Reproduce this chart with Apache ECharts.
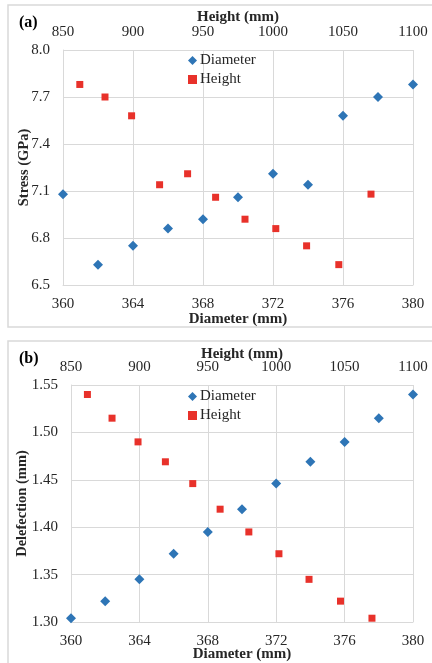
<!DOCTYPE html>
<html>
<head>
	<meta charset="utf-8">
	<title>Stress / Deflection</title>
	<script src="https://cdn.jsdelivr.net/npm/echarts@6/dist/echarts.min.js"></script>
	<style>
		html, body { margin: 0; padding: 0; background: #fff; }
		#chart { width: 432px; height: 663px; }
	</style>
</head>
<body>
	<div id="chart"></div>
	<script>
		// diameter (bottom axis) and height (top axis) values
		var diameter = [360, 362, 364, 366, 368, 370, 372, 374, 376, 378, 380];
		var height = [862, 880, 899, 919, 939, 959, 980, 1002, 1024, 1047, 1070];
		// (a) stress, GPa
		var stressByDiameter = [7.08, 6.63, 6.75, 6.86, 6.92, 7.06, 7.21, 7.14, 7.58, 7.70, 7.78];
		var stressByHeight = [7.78, 7.70, 7.58, 7.14, 7.21, 7.06, 6.92, 6.86, 6.75, 6.63, 7.08];
		// (b) deflection, mm
		var deflByDiameter = [1.304, 1.322, 1.345, 1.372, 1.395, 1.419, 1.446, 1.469, 1.490, 1.515, 1.540];
		var deflByHeight = [1.540, 1.515, 1.490, 1.469, 1.446, 1.419, 1.395, 1.372, 1.345, 1.322, 1.304];

		function pairs(xs, ys) {
			var out = [];
			for (var i = 0; i < xs.length; i++) out.push([xs[i], ys[i]]);
			return out;
		}

		var FONT = '"Liberation Serif", "DejaVu Serif", serif';
		var BLUE = '#2E75B6';
		var RED = '#E8312A';
		var GRID = '#d9d9d9';
		var TXT = '#262626';

		function xAxisCfg(grid, pos, min, max, interval, name, margin, gap, split) {
			return {
				gridIndex: grid, type: 'value', position: pos,
				min: min, max: max, interval: interval,
				name: name, nameLocation: 'middle', nameGap: gap, nameMoveOverlap: false,
				nameTextStyle: { fontFamily: FONT, fontWeight: 'bold', fontSize: 15, color: TXT },
				axisLine: { show: pos === 'bottom', lineStyle: { color: GRID } },
				axisTick: { show: false },
				axisLabel: { fontFamily: FONT, fontSize: 15, color: TXT, margin: margin,
					formatter: function (v) { return String(v); } },
				splitLine: { show: split, lineStyle: { color: GRID, width: 1 } }
			};
		}
		function yAxisCfg(grid, min, max, interval, name, gap, digits) {
			return {
				gridIndex: grid, type: 'value',
				min: min, max: max, interval: interval,
				name: name, nameLocation: 'middle', nameGap: gap, nameRotate: 90, nameMoveOverlap: false,
				nameTextStyle: { fontFamily: FONT, fontWeight: 'bold', fontSize: 14.5, color: TXT },
				axisLine: { show: true, lineStyle: { color: GRID } },
				axisTick: { show: false },
				axisLabel: { fontFamily: FONT, fontSize: 15, color: TXT, margin: 13,
					formatter: function (v) { return v.toFixed(digits); } },
				splitLine: { show: true, lineStyle: { color: GRID, width: 1 } }
			};
		}
		function legendCfg(top) {
			return {
				orient: 'vertical', left: 183, top: top, itemGap: 4,
				itemWidth: 9, itemHeight: 9,
				textStyle: { fontFamily: FONT, fontSize: 15, color: TXT, padding: [0, 0, 0, -2] },
				data: [{ name: 'Diameter', icon: 'diamond' }, { name: 'Height', icon: 'rect' }]
			};
		}
		function scatter(name, xi, yi, data, color, symbol, size) {
			return {
				name: name, type: 'scatter', xAxisIndex: xi, yAxisIndex: yi,
				symbol: symbol, symbolSize: size, data: data,
				itemStyle: { color: color, opacity: 1 }
			};
		}

		var chart = echarts.init(document.getElementById('chart'), null, { renderer: 'canvas' });
		chart.setOption({
			animation: false,
			backgroundColor: '#fff',
			title: [
				{ text: '(a)', left: 14, top: 10, textStyle: { fontFamily: FONT, fontWeight: 'bold', fontSize: 16, color: '#000' } },
				{ text: '(b)', left: 14, top: 346, textStyle: { fontFamily: FONT, fontWeight: 'bold', fontSize: 16, color: '#000' } }
			],
			graphic: [
				{ type: 'rect', shape: { x: 8, y: 5, width: 430, height: 322 }, style: { fill: 'none', stroke: GRID, lineWidth: 1.5 }, silent: true },
				{ type: 'rect', shape: { x: 8, y: 341, width: 430, height: 330 }, style: { fill: 'none', stroke: GRID, lineWidth: 1.5 }, silent: true }
			],
			grid: [
				{ left: 63, top: 50, width: 350, height: 235, outerBoundsMode: 'none' },
				{ left: 71, top: 385, width: 342, height: 237, outerBoundsMode: 'none' }
			],
			legend: [legendCfg(48), legendCfg(384)],
			xAxis: [
				xAxisCfg(0, 'bottom', 360, 380, 4, 'Diameter (mm)', 12, 27, true),
				xAxisCfg(0, 'top', 850, 1100, 50, 'Height (mm)', 10, 25, false),
				xAxisCfg(1, 'bottom', 360, 380, 4, 'Diameter (mm)', 12, 25, true),
				xAxisCfg(1, 'top', 850, 1100, 50, 'Height (mm)', 10, 23, false)
			],
			yAxis: [
				yAxisCfg(0, 6.5, 8.0, 0.3, 'Stress (GPa)', 31.5, 1),
				yAxisCfg(1, 1.30, 1.55, 0.05, 'Delefection (mm)', 41.5, 2)
			],
			series: [
				scatter('Diameter', 0, 0, pairs(diameter, stressByDiameter), BLUE, 'diamond', 10),
				scatter('Height', 1, 0, pairs(height, stressByHeight), RED, 'rect', 7),
				scatter('Diameter', 2, 1, pairs(diameter, deflByDiameter), BLUE, 'diamond', 10),
				scatter('Height', 3, 1, pairs(height, deflByHeight), RED, 'rect', 7)
			]
		});
	</script>
</body>
</html>
